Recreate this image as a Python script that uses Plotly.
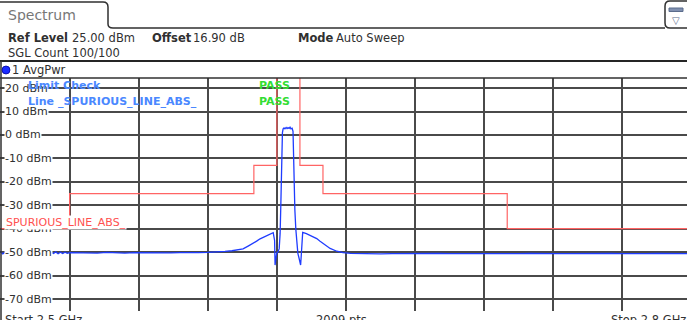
import plotly.graph_objects as go

W, H = 687, 320

# ---------------- data ----------------
# Limit line (MHz, dBm)
limit_freq = [2500, 2530, 2530, 2610, 2610, 2620, 2620, 2630, 2630, 2640, 2640, 2720, 2720, 2800]
limit_dbm = [-40, -40, -25, -25, -13, -13, 40, 40, -13, -13, -25, -25, -40, -40]

# Measured trace (MHz, dBm)
trace_freq = [
    2500, 2501, 2502, 2503, 2504, 2505, 2506, 2507, 2508, 2509, 2510, 2511, 2512, 2513, 2514,
    2515, 2516, 2517, 2518, 2519, 2520, 2521, 2522, 2523, 2524, 2525, 2526, 2527, 2528, 2529, 2530,
    2534, 2538, 2542, 2546, 2550, 2554, 2558, 2562, 2566, 2570, 2574, 2578, 2582, 2586, 2590,
    2593.1, 2597.5, 2600.5, 2603.0, 2605.3, 2607.5, 2609.6, 2611.2, 2612.7, 2614.2, 2615.6,
    2617.0, 2618.4, 2619.0, 2619.2, 2619.4,
    2619.9, 2620.5, 2621.0, 2621.4, 2621.7, 2622.0, 2622.4, 2622.7,
    2623.1, 2623.5, 2624.0, 2624.4, 2624.8, 2625.3, 2625.7, 2626.1, 2626.6, 2627.0,
    2627.3, 2627.8, 2628.2, 2628.7, 2629.1, 2629.6, 2630.0, 2630.3, 2630.6, 2630.9, 2631.2,
    2632.8, 2634.4, 2635.8, 2637.3, 2638.6, 2640.0, 2641.5, 2643.1, 2646.0, 2648.7, 2652.0,
    2656, 2660, 2665, 2670, 2675, 2680, 2685, 2690, 2695, 2700, 2705, 2710, 2715, 2720,
    2725, 2730, 2735, 2740, 2745, 2750, 2755, 2760, 2765, 2770, 2775, 2780, 2785, 2790, 2795, 2800,
]
trace_dbm = [
    -49.8, -50.7, -50.0, -50.6, -49.9, -50.8, -50.1, -50.5, -49.8, -50.7, -50.0, -50.6, -49.9, -50.7, -50.1,
    -50.6, -49.9, -50.7, -50.0, -50.5, -49.8, -50.7, -50.1, -50.6, -49.9, -50.7, -50.0, -50.6, -50.0, -50.5, -50.2,
    -50.3, -50.2, -50.4, -50.1, -50.3, -50.4, -50.2, -50.3, -50.1, -50.4, -50.3, -50.2, -50.3, -50.2, -50.1,
    -50.0, -49.7, -49.4, -49.0, -48.6, -47.4, -46.3, -45.3, -44.3, -43.6, -42.8,
    -42.3, -41.7, -45.0, -55.5, -54.0,
    -50.5, -49.8, -48.5, -42.0, -30.0, -12.0, 1.0, 2.6,
    3.0, 2.6, 3.2, 2.7, 3.1, 2.8, 3.3, 2.6, 2.9, 1.5,
    -15.0, -32.0, -40.0, -48.0, -50.5, -52.5, -54.0, -55.5, -51.0, -46.0, -41.6,
    -42.1, -42.8, -43.3, -44.2, -45.2, -46.3, -47.4, -48.4, -49.6, -50.2, -50.5,
    -50.6, -50.5, -50.7, -50.6, -50.5, -50.7, -50.6, -50.5, -50.6, -50.7, -50.5, -50.6, -50.6, -50.7,
    -50.6, -50.5, -50.7, -50.6, -50.6, -50.5, -50.7, -50.6, -50.5, -50.6, -50.7, -50.6, -50.5, -50.6, -50.6, -50.6,
]

y_ticks = [20, 10, 0, -10, -20, -30, -40, -50, -60, -70]
y_tick_labels = [f"{v} dBm" for v in y_ticks]

# ---------------- helpers ----------------
def px(x):
    return x / W


def py(y):
    return 1 - y / H


FONT = "DejaVu Sans"
MHZ_PER_PX = 300 / 691.0

fig = go.Figure()
fig.add_trace(go.Scatter(x=limit_freq, y=limit_dbm, mode="lines",
                         line=dict(color="#ff6464", width=1.2), hoverinfo="skip"))
fig.add_trace(go.Scatter(x=trace_freq, y=trace_dbm, mode="lines",
                         line=dict(color="#1f3cff", width=1.3), hoverinfo="skip"))

shapes = []
# Spectrum tab outline + header line
shapes.append(dict(type="path", xref="paper", yref="paper",
                   path=f"M {px(0)},{py(2)} L {px(103)},{py(2)} Q {px(108)},{py(2)} {px(108)},{py(7)} "
                        f"L {px(108)},{py(24)} Q {px(108)},{py(28)} {px(113)},{py(28)} L {px(665)},{py(28)}",
                   line=dict(color="#303030", width=1.5)))
# icon box at top right
shapes.append(dict(type="path", xref="paper", yref="paper",
                   path=f"M {px(690)},{py(1)} L {px(670)},{py(1)} Q {px(665)},{py(1)} {px(665)},{py(6)} "
                        f"L {px(665)},{py(23)} Q {px(665)},{py(28)} {px(670)},{py(28)} L {px(690)},{py(28)}",
                   line=dict(color="#303030", width=1.5)))
shapes.append(dict(type="rect", xref="paper", yref="paper",
                   x0=px(669), x1=px(683), y0=py(11.5), y1=py(8),
                   line=dict(color="#5b6c8c", width=1), fillcolor="#8090b0"))
# separator under header
shapes.append(dict(type="line", xref="paper", yref="paper", x0=0, x1=1, y0=py(61), y1=py(61),
                   line=dict(color="#252525", width=2)))
# top of diagram
shapes.append(dict(type="line", xref="paper", yref="paper", x0=0, x1=1, y0=py(78), y1=py(78),
                   line=dict(color="#303030", width=1.5)))
# left frame
shapes.append(dict(type="line", xref="paper", yref="paper", x0=px(1), x1=px(1), y0=py(61), y1=0,
                   line=dict(color="#303030", width=1.5)))
# trace indicator dot
shapes.append(dict(type="circle", xref="paper", yref="paper",
                   x0=px(2), x1=px(10), y0=py(74), y1=py(66),
                   line=dict(color="#0000a0", width=0.8), fillcolor="#1a2cff"))

ann = []


def txt(x, y, s, size=11.5, color="#303030", anchor="left", yanchor="middle", bold=False, bg=None):
    d = dict(x=px(x), y=py(y), xref="paper", yref="paper", text=(f"<b>{s}</b>" if bold else s),
             showarrow=False, xanchor=anchor, yanchor=yanchor, borderpad=0,
             font=dict(family=FONT, size=size, color=color))
    if bg:
        d["bgcolor"] = bg
    ann.append(d)


txt(7, 15, "Spectrum", size=14, color="#777777")
txt(665 + 11, 20, "▽", size=10, color="#5b6c8c", anchor="center")
txt(7, 38, "Ref Level", bold=True)
txt(71, 38, "25.00 dBm")
txt(151, 38, "Offset", bold=True)
txt(192, 38, "16.90 dB")
txt(297, 38, "Mode", bold=True)
txt(335, 38, "Auto Sweep")
txt(7, 53, "SGL Count 100/100")
txt(11, 70, "1 AvgPwr")

# y tick labels (with white background covering grid)
for v, lab in zip(y_ticks, y_tick_labels):
    ann.append(dict(x=px(4), y=v, xref="paper", yref="y", text=lab, showarrow=False,
                    xanchor="left", yanchor="middle", borderpad=0, bgcolor="white",
                    font=dict(family=FONT, size=11, color="#303030")))

txt(27, 85, "Limit Check", size=11, color="#4a88ff", bold=True)
txt(27, 101, "Line _SPURIOUS_LINE_ABS_", size=11, color="#4a88ff", bold=True)
txt(258, 85, "PASS", size=11, color="#33dd33", bold=True)
txt(258, 101, "PASS", size=11, color="#33dd33", bold=True)
txt(5, 222, "SPURIOUS_LINE_ABS_", size=11, color="#ff5050", bg="white")

txt(4, 312, "Start 2.5 GHz", size=11.5, yanchor="top")
txt(315, 312, "2009 pts", size=11.5, yanchor="top")
txt(687, 312, "Stop 2.8 GHz", size=11.5, anchor="right", yanchor="top")

fig.update_layout(
    width=W, height=H, autosize=False,
    margin=dict(l=0, r=0, t=0, b=0),
    paper_bgcolor="white", plot_bgcolor="white",
    showlegend=False,
    shapes=shapes, annotations=ann,
    xaxis=dict(domain=[0, 1], range=[2500 - 0.5 * MHZ_PER_PX, 2500 + 686.5 * MHZ_PER_PX],
               tick0=2500, dtick=30, showgrid=True, gridcolor="#4a4a4a", gridwidth=1.5,
               showticklabels=False, zeroline=False, showline=False, ticks=""),
    yaxis=dict(domain=[py(311), py(78)], range=[-75.1, 24.3],
               tick0=0, dtick=10, showgrid=True, gridcolor="#4a4a4a", gridwidth=1.5,
               showticklabels=False, zeroline=False, showline=False, ticks=""),
)

fig.write_html("out.html", config={"displayModeBar": False},
               post_script="document.body.style.margin='0';document.body.style.overflow='hidden';")
